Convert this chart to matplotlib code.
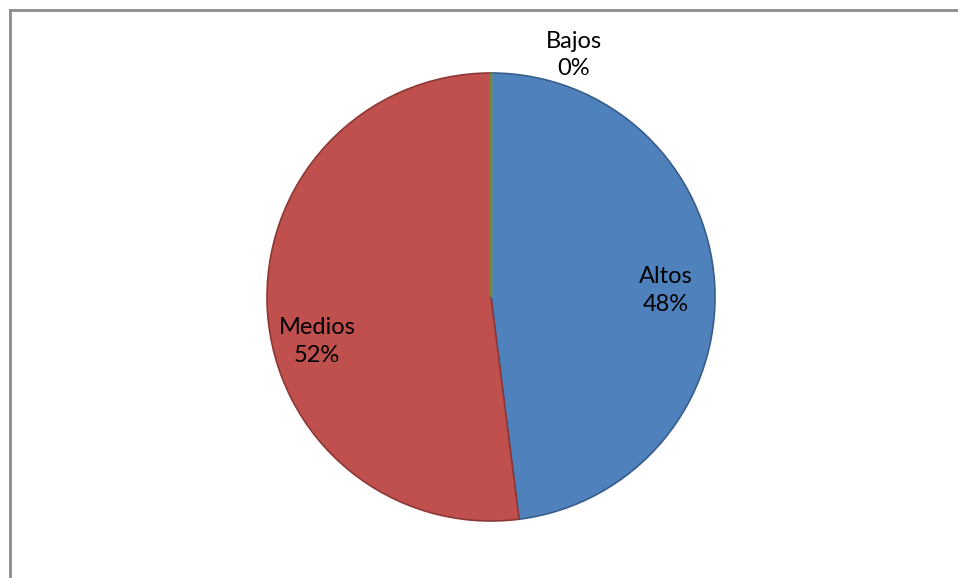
import matplotlib
matplotlib.use("Agg")
import matplotlib.pyplot as plt
from matplotlib.lines import Line2D

labels = ["Altos", "Medios", "Bajos"]
values = [48, 52, 0]
colors = ["#4F81BD", "#C0504D", "#9BBB59"]
edges = ["#385D8A", "#8C3836", "#71893F"]

fig = plt.figure(figsize=(9.58, 5.78), dpi=100)
ax = fig.add_axes([(491 - 224) / 958, (578 - 297 - 224) / 578, 448 / 958, 448 / 578])

wedges, _ = ax.pie(values, colors=colors, startangle=90, counterclock=False,
                   radius=1, wedgeprops=dict(linewidth=1.2))
for w, ec in zip(wedges, edges):
    w.set_edgecolor(ec)
wedges[2].set_linewidth(2)
ax.set_xlim(-1, 1)
ax.set_ylim(-1, 1)
ax.set_aspect("equal")
ax.axis("off")

# label positions (x, y) in data units, as Excel placed them
label_pos = [(0.78, 0.03), (-0.777, -0.2), (0.37, 1.08)]
total = sum(values)
for lab, v, (x, y) in zip(labels, values, label_pos):
    ax.text(x, y, "{}\n{:.0f}%".format(lab, 100 * v / total), ha="center", va="center",
            fontsize=17, family="Lato", linespacing=1.4, color="black")

# chart frame (cropped at right and bottom)
fig.add_artist(Line2D([10 / 958, 1], [1 - 10 / 578, 1 - 10 / 578], color="#8c8c8c", lw=2))
fig.add_artist(Line2D([10 / 958, 10 / 958], [0, 1 - 10 / 578], color="#8c8c8c", lw=2))

fig.savefig("out.png", dpi=100)
